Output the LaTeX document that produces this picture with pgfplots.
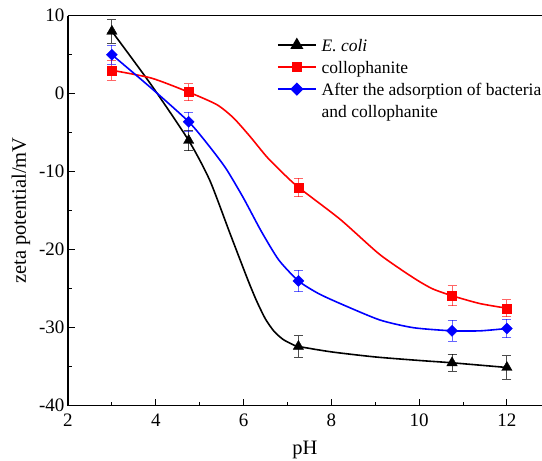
\documentclass[border=0pt]{standalone}
\usepackage{fontspec}
\setmainfont{Liberation Serif}
\usepackage{pgfplots}
\pgfplotsset{compat=1.18}
\definecolor{myred}{RGB}{255,0,0}
\definecolor{myblue}{RGB}{0,0,255}
\newcommand{\lgf}{\fontsize{17.5}{21}\selectfont}
\begin{document}
\begin{tikzpicture}
\begin{axis}[name=ax, at={(0,0)}, anchor=south west,
  scale only axis, width=474pt, height=390pt,
  xmin=2, xmax=12.8, ymin=-40, ymax=10,
  axis x line*=box, axis y line*=left,
  xtick={2,4,...,12}, ytick={-40,-30,...,10},
  minor x tick num=1, minor y tick num=1,
  xtick pos=left, ytick pos=left, tick align=inside,
  major tick length=7pt, minor tick length=4pt,
  tick style={black, line width=0.8pt},
  axis line style={line width=1.1pt},
  ticklabel style={font=\fontsize{19}{22}\selectfont},
  xticklabel style={yshift=-5pt},
  /pgf/number format/assume math mode=true,
  label style={font=\fontsize{20.5}{24}\selectfont},
  xlabel={pH}, ylabel={zeta potential/mV},
  xlabel style={yshift=-7pt},
  ylabel style={yshift=2pt},
  legend style={at={(0.441,0.945)}, anchor=north west, draw=none, fill=none,
    font=\lgf, inner sep=0pt, outer sep=0pt,
    cells={anchor=base west, inner sep=0pt, text height=12pt, text depth=4pt},
    row sep=4.5pt, column sep=3pt},
  legend image code/.code={\draw[mark repeat=2,mark phase=2] plot coordinates {(0pt,6pt) (19pt,6pt) (38pt,6pt)};},
  clip=false,
]
% curves
\addplot[black, line width=1.6pt, smooth, tension=0.4, forget plot] coordinates {
(3,8) (3.9,1.1) (4.75,-6) (5.23,-11.1) (5.69,-17.9) (6.1,-23.9) (6.3,-26.6) (6.5,-28.9) (6.7,-30.5) (6.9,-31.5) (7.1,-32.1) (7.25,-32.4) (8,-33.1) (9,-33.75) (10,-34.2) (10.75,-34.5) (12,-35.1)};
\addplot[myred, line width=1.6pt, smooth, tension=0.4, forget plot] coordinates {
(3,3) (3.9,2.0) (4.75,0.2) (5.39,-1.4) (5.77,-3.1) (6.15,-5.5) (6.53,-8.1) (6.9,-10.2) (7.25,-12) (8.2,-16.1) (9.1,-20.6) (9.87,-23.6) (10.3,-25.0) (10.75,-25.9) (11.38,-26.9) (12,-27.5)};
\addplot[myblue, line width=1.6pt, smooth, tension=0.4, forget plot] coordinates {
(3,5) (3.9,0.7) (4.75,-3.6) (5.2,-6.6) (5.6,-9.6) (6.0,-13.4) (6.4,-17.6) (6.8,-21.3) (7.25,-24.0) (7.7,-25.6) (8.2,-26.9) (9.1,-29.0) (9.87,-30.0) (10.75,-30.4) (11.4,-30.4) (12,-30.1)};
% markers with error bars
\addplot[black, only marks, mark=triangle*, mark size=6pt, forget plot,
  error bars/.cd, y dir=both, y explicit,
  error bar style={line width=0.8pt, opacity=0.7},
  error mark options={rotate=90, mark size=4.5pt, line width=0.8pt, opacity=0.7}]
  coordinates {(3,8) +- (0,1.5) (4.75,-6) +- (0,1.3) (7.25,-32.4) +- (0,1.4) (10.75,-34.5) +- (0,1.07) (12,-35.1) +- (0,1.5)};
\addplot[myred, only marks, mark=square*, mark size=4.5pt, forget plot,
  error bars/.cd, y dir=both, y explicit,
  error bar style={line width=0.8pt, opacity=0.6},
  error mark options={rotate=90, mark size=4.5pt, line width=0.8pt, opacity=0.6}]
  coordinates {(3,3) +- (0,1.3) (4.75,0.2) +- (0,1.1) (7.25,-12) +- (0,1.2) (10.75,-25.9) +- (0,1.3) (12,-27.5) +- (0,1.1)};
\addplot[myblue, only marks, mark=square*, mark options={rotate=45}, mark size=3.9pt, forget plot,
  error bars/.cd, y dir=both, y explicit,
  error bar style={line width=0.8pt, opacity=0.6},
  error mark options={rotate=90, mark size=4.5pt, line width=0.8pt, opacity=0.6}]
  coordinates {(3,5) +- (0,1.2) (4.75,-3.6) +- (0,1.2) (7.25,-24) +- (0,1.4) (10.75,-30.4) +- (0,1.35) (12,-30.1) +- (0,1.2)};
\addlegendimage{black, line width=1.6pt, mark=triangle*, mark size=6pt}
\addlegendentry{\textit{E. coli}}
\addlegendimage{myred, line width=1.6pt, mark=square*, mark size=4.5pt}
\addlegendentry{collophanite}
\addlegendimage{myblue, line width=1.6pt, mark=square*, mark options={rotate=45}, mark size=3.9pt}
\addlegendentry{After the adsorption of bacteria}
\addlegendimage{empty legend}
\addlegendentry{and collophanite}
\end{axis}
\pgfresetboundingbox
\path ([xshift=-68pt,yshift=-54.3pt]ax.south west) rectangle ([yshift=15.7pt]ax.north east);
\end{tikzpicture}
\end{document}
